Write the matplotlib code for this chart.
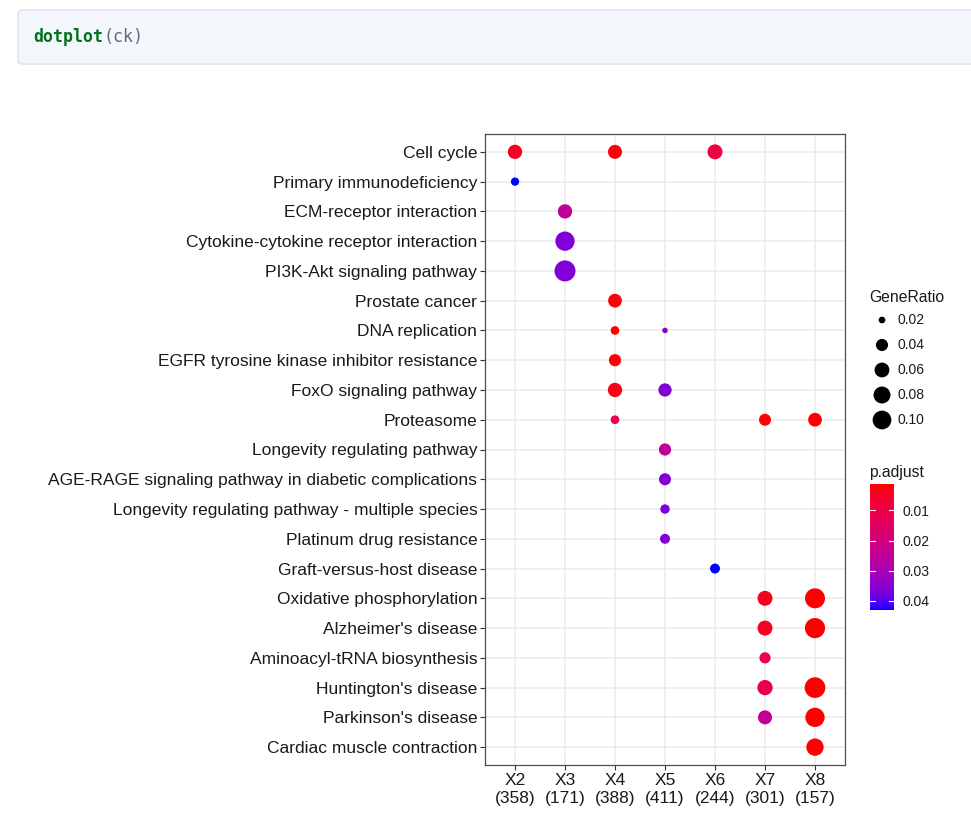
import numpy as np
import matplotlib
matplotlib.use("Agg")
import matplotlib.pyplot as plt
from matplotlib.colors import ListedColormap, Normalize
from matplotlib.patches import FancyBboxPatch

# ---------------- data ----------------
categories = [
    "Cell cycle", "Primary immunodeficiency", "ECM-receptor interaction",
    "Cytokine-cytokine receptor interaction", "PI3K-Akt signaling pathway",
    "Prostate cancer", "DNA replication", "EGFR tyrosine kinase inhibitor resistance",
    "FoxO signaling pathway", "Proteasome", "Longevity regulating pathway",
    "AGE-RAGE signaling pathway in diabetic complications",
    "Longevity regulating pathway - multiple species", "Platinum drug resistance",
    "Graft-versus-host disease", "Oxidative phosphorylation", "Alzheimer's disease",
    "Aminoacyl-tRNA biosynthesis", "Huntington's disease", "Parkinson's disease",
    "Cardiac muscle contraction",
]
clusters = ["X2", "X3", "X4", "X5", "X6", "X7", "X8"]
cluster_sizes = [358, 171, 388, 411, 244, 301, 157]

dot_category = [
    "Cell cycle", "Cell cycle", "Cell cycle", "Primary immunodeficiency",
    "ECM-receptor interaction", "Cytokine-cytokine receptor interaction",
    "PI3K-Akt signaling pathway", "Prostate cancer", "DNA replication", "DNA replication",
    "EGFR tyrosine kinase inhibitor resistance", "FoxO signaling pathway",
    "FoxO signaling pathway", "Proteasome", "Proteasome", "Proteasome",
    "Longevity regulating pathway", "AGE-RAGE signaling pathway in diabetic complications",
    "Longevity regulating pathway - multiple species", "Platinum drug resistance",
    "Graft-versus-host disease", "Oxidative phosphorylation", "Oxidative phosphorylation",
    "Alzheimer's disease", "Alzheimer's disease", "Aminoacyl-tRNA biosynthesis",
    "Huntington's disease", "Huntington's disease", "Parkinson's disease",
    "Parkinson's disease", "Cardiac muscle contraction",
]
dot_cluster = [
    "X2", "X4", "X6", "X2", "X3", "X3", "X3", "X4", "X4", "X5", "X4", "X4", "X5",
    "X4", "X7", "X8", "X5", "X5", "X5", "X5", "X6", "X7", "X8", "X7", "X8", "X7",
    "X7", "X8", "X7", "X8", "X8",
]
gene_ratio = [
    0.050, 0.048, 0.055, 0.022, 0.050, 0.095, 0.115, 0.046, 0.023, 0.019, 0.037,
    0.050, 0.043, 0.023, 0.036, 0.046, 0.037, 0.036, 0.025, 0.027, 0.027, 0.055,
    0.103, 0.055, 0.105, 0.032, 0.057, 0.111, 0.048, 0.095, 0.075,
]
p_adjust = [
    0.005, 0.002, 0.009, 0.043, 0.025, 0.036, 0.036, 0.002, 0.0015, 0.036, 0.002,
    0.003, 0.036, 0.011, 0.0015, 0.0015, 0.025, 0.036, 0.036, 0.036, 0.043, 0.004,
    0.0013, 0.005, 0.0013, 0.011, 0.012, 0.0013, 0.024, 0.0014, 0.0015,
]
size_breaks = [0.02, 0.04, 0.06, 0.08, 0.10]
color_breaks = [0.01, 0.02, 0.03, 0.04]

# ---------------- colour scale (Lab interpolation red -> blue) ----------------
def srgb2lab(c):
    c = np.asarray(c, float)
    lin = np.where(c <= 0.04045, c / 12.92, ((c + 0.055) / 1.055) ** 2.4)
    M = np.array([[0.4124564, 0.3575761, 0.1804375],
                  [0.2126729, 0.7151522, 0.0721750],
                  [0.0193339, 0.1191920, 0.9503041]])
    xyz = M @ lin / np.array([0.95047, 1.0, 1.08883])
    d = 6 / 29
    f = np.where(xyz > d ** 3, np.cbrt(xyz), xyz / (3 * d * d) + 4 / 29)
    return np.array([116 * f[1] - 16, 500 * (f[0] - f[1]), 200 * (f[1] - f[2])])

def lab2srgb(lab):
    L, a, b = lab
    fy = (L + 16) / 116
    fx = fy + a / 500
    fz = fy - b / 200
    d = 6 / 29
    f = np.array([fx, fy, fz])
    xyz = np.where(f > d, f ** 3, 3 * d * d * (f - 4 / 29)) * np.array([0.95047, 1.0, 1.08883])
    Minv = np.array([[3.2404542, -1.5371385, -0.4985314],
                     [-0.9692660, 1.8760108, 0.0415560],
                     [0.0556434, -0.2040259, 1.0572252]])
    lin = np.clip(Minv @ xyz, 0, 1)
    c = np.where(lin <= 0.0031308, 12.92 * lin, 1.055 * lin ** (1 / 2.4) - 0.055)
    return np.clip(c, 0, 1)

lab_lo = srgb2lab([1, 0, 0])
lab_hi = srgb2lab([0, 0, 1])
cmap = ListedColormap([lab2srgb(lab_lo + t * (lab_hi - lab_lo)) for t in np.linspace(0, 1, 256)])
pmin, pmax = min(p_adjust), max(p_adjust)
norm = Normalize(pmin, pmax)

gmin, gmax = min(gene_ratio), max(gene_ratio)
DMIN, DMAX = 5.5, 15.5  # px (min diameter, span)

def diam_px(g):
    g = np.asarray(g, float)
    return DMIN + DMAX * np.sqrt(np.clip((g - gmin) / (gmax - gmin), 0, 1))

def area_pt(g):
    return (diam_px(g) * 0.72) ** 2

# ---------------- figure ----------------
W, H = 971, 831
fig = plt.figure(figsize=(W / 100, H / 100), dpi=100)
plt.rcParams["font.family"] = ["Liberation Sans", "DejaVu Sans"]

def px_axes(x0, y0, x1, y1, **kw):
    return fig.add_axes([x0 / W, 1 - y1 / H, (x1 - x0) / W, (y1 - y0) / H], **kw)

# overlay for code box and legends
ov = fig.add_axes([0, 0, 1, 1])
ov.set_xlim(0, W)
ov.set_ylim(H, 0)
ov.axis("off")
box = FancyBboxPatch((18, 10), 990, 54, boxstyle="round,pad=0,rounding_size=4",
                     facecolor="#F3F6FA", edgecolor="#DCE3EB", lw=1.0)
ov.add_patch(box)
fs_code = 12
cw = 0.602 * fs_code * 100 / 72
ov.text(33, 37, "dotplot", family="DejaVu Sans Mono", fontsize=fs_code,
        fontweight="bold", color="#00741B", va="center", ha="left")
ov.text(33 + 7 * cw, 37, "(ck)", family="DejaVu Sans Mono", fontsize=fs_code,
        color="#5C6B78", va="center", ha="left")

# main panel
ax = px_axes(485, 134, 845, 765)
xi = [clusters.index(c) for c in dot_cluster]
yi = [categories.index(c) for c in dot_category]
order = np.argsort(gene_ratio)[::-1]
ax.scatter(np.array(xi)[order], np.array(yi)[order], s=area_pt(np.array(gene_ratio)[order]),
           c=np.array(p_adjust)[order], cmap=cmap, norm=norm, edgecolors="none", zorder=3)
ax.set_xlim(-0.6, len(clusters) - 0.4)
ax.set_ylim(len(categories) - 0.4, -0.6)
ax.set_xticks(range(len(clusters)))
ax.set_xticklabels([f"{c}\n({n})" for c, n in zip(clusters, cluster_sizes)],
                   fontsize=12.5, color="#1A1A1A", linespacing=1.25)
ax.set_yticks(range(len(categories)))
ax.set_yticklabels(categories, fontsize=12.5, color="#1A1A1A")
ax.grid(True, color="#EBEBEB", lw=1.1, zorder=0)
ax.set_axisbelow(True)
for sp in ax.spines.values():
    sp.set_color("#4D4D4D")
    sp.set_linewidth(0.9)
ax.tick_params(length=3.5, width=0.8, color="#333333", pad=2)

# size legend
ov.text(869, 297, "GeneRatio", fontsize=11.3, color="#1A1A1A", va="center", ha="left")
for k, b in enumerate(size_breaks):
    yy = 320 + 25 * k
    ov.scatter([882], [yy], s=area_pt(b) * 0.9, color="black", edgecolors="none")
    ov.text(897, yy, f"{b:.2f}", fontsize=10, color="#1A1A1A", va="center", ha="left")

# colour legend
ov.text(869, 472, "p.adjust", fontsize=11.3, color="#1A1A1A", va="center", ha="left")
cax = px_axes(870, 484, 894, 610)
vals = np.linspace(pmin, pmax, 300)
cax.imshow(vals[:, None], aspect="auto", cmap=cmap, norm=norm,
           extent=[0, 1, pmax, pmin], origin="upper")
cax.set_xlim(0, 1)
cax.set_ylim(pmax, pmin)
for b in color_breaks:
    cax.plot([0, 0.2], [b, b], color="white", lw=0.8)
    cax.plot([0.8, 1], [b, b], color="white", lw=0.8)
cax.set_xticks([])
cax.yaxis.tick_right()
cax.set_yticks(color_breaks)
cax.set_yticklabels([f"{b:.2f}" for b in color_breaks], fontsize=10, color="#1A1A1A")
cax.tick_params(length=0, pad=6)
for sp in cax.spines.values():
    sp.set_visible(False)

fig.savefig("out.png", dpi=100)
